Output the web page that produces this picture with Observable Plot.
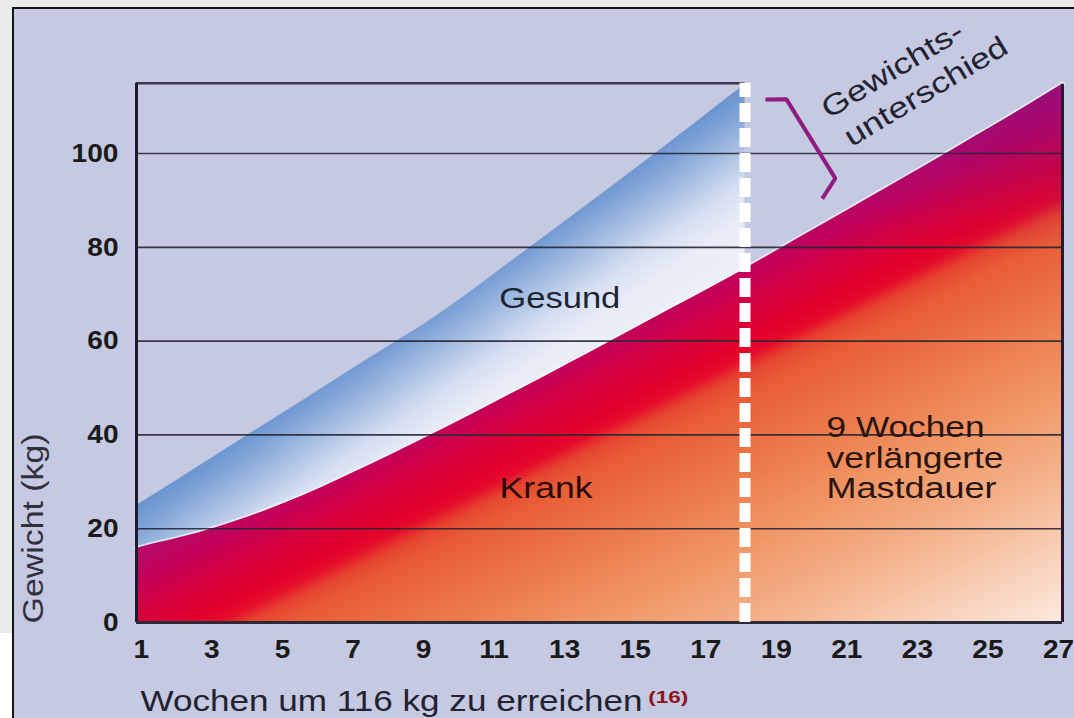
<!DOCTYPE html>
<html>
<head>
<meta charset="utf-8">
<script src="https://cdn.jsdelivr.net/npm/d3@7"></script>
<script src="https://cdn.jsdelivr.net/npm/@observablehq/plot@0.6"></script>
<style>
  html, body { margin: 0; padding: 0; width: 1074px; height: 718px; overflow: hidden; background: #e9ebea; }
  #frame { position: absolute; left: 12px; top: 7px; width: 1120px; height: 760px; border: 2px solid #151515; box-sizing: border-box; background: #c5c9e1; }
  #white { position: absolute; left: 0; top: 633px; width: 12px; height: 85px; background: #ffffff; }
  #chart { position: absolute; left: 0; top: 0; }
  g[aria-label^="y-axis"] text {
    font-family: "Liberation Sans", Arial, Helvetica, sans-serif;
    font-size: 26px; font-weight: bold; fill: #1a1a1a;
  }
</style>
</head>
<body>
<div id="frame"></div>
<div id="white"></div>
<div id="chart"></div>
<script>
// ---- data ----
const weeksKrank = [0.75, 1, 2, 3, 4, 5, 6, 7, 8, 9, 10, 11, 12, 13, 14, 15, 16, 17, 18, 19, 20, 21, 22, 23, 24, 25, 26, 27];
const krankKg    = [15.8, 16.3, 18.1, 20.2, 22.7, 25.6, 28.8, 32.3, 35.9, 39.6, 43.4, 47.3, 51.2, 55.2, 59.2, 63.2, 67.3, 71.3, 75.4, 79.7, 84.0, 88.3, 92.6, 96.9, 101.3, 105.7, 110.2, 114.8];
const weeksGesund = [0.75, 1, 2, 3, 4, 5, 6, 7, 8, 9, 10, 11, 12, 13, 14, 15, 16, 17, 18];
const gesundKg    = [24.9, 26.1, 30.8, 35.6, 40.4, 45.1, 49.9, 54.7, 59.4, 64.1, 69.3, 74.9, 80.5, 86.1, 91.7, 97.4, 103.1, 108.9, 114.7];
const xTicks = [1, 3, 5, 7, 9, 11, 13, 15, 17, 19, 21, 23, 25, 27];
const yTicks = [0, 20, 40, 60, 80, 100];
const xDomain = [0.75, 27];
const yDomain = [0, 115];
const markWeek = 18;           // end of healthy fattening
const xTitle = "Wochen um 116 kg zu erreichen";
const xFootnote = "(16)";
const yTitle = "Gewicht (kg)";
const labelGesund = "Gesund";
const labelKrank = "Krank";
const labelExtra = "9 Wochen\nverlängerte\nMastdauer";
const labelDiff1 = "Gewichts-";
const labelDiff2 = "unterschied";

const krank = weeksKrank.map((w, i) => ({week: w, kg: krankKg[i]}));
const gesund = weeksGesund.map((w, i) => ({week: w, kg: gesundKg[i]}));
const font = "'Liberation Sans', Arial, Helvetica, sans-serif";
const curve = "monotone-x";

const chart = Plot.plot({
  width: 1074,
  height: 718,
  marginLeft: 136,
  marginRight: 12,
  marginTop: 82.7,
  marginBottom: 96,
  style: {background: "transparent", overflow: "visible"},
  x: {domain: xDomain, axis: null},
  y: {domain: yDomain, ticks: yTicks, tickFormat: d => String(d), tickSize: 0, tickPadding: 18, label: null},
  marks: [
    // healthy band
    Plot.areaY(gesund, {x: "week", y: "kg", curve, fill: "url(#gBlue)"}),
    // light rim above the sick curve
    Plot.line(krank, {x: "week", y: "kg", curve, stroke: "#ffffff", strokeOpacity: 0.6, strokeWidth: 5}),
    // sick area
    Plot.areaY(krank, {x: "week", y: "kg", curve, fill: "url(#gSick)"}),
    Plot.areaY(krank, {x: "week", y: "kg", curve, fill: "url(#gPurple)"}),
    // grid
    Plot.ruleY(yTicks.filter(d => d > 0), {x1: xDomain[0], x2: xDomain[1], stroke: "#262636", strokeOpacity: 0.9, strokeWidth: 1.6}),
    Plot.ruleY([yDomain[1]], {x1: xDomain[0], x2: markWeek, stroke: "#3a3a4a", strokeWidth: 2.6}),
    Plot.ruleX([xDomain[1]], {y1: 0, y2: krankKg[krankKg.length - 1], stroke: "#2b1830", strokeWidth: 3}),
    Plot.ruleX([xDomain[0]], {y1: 0, y2: yDomain[1], stroke: "#1c1c2a", strokeWidth: 3}),
    Plot.ruleY([0], {x1: xDomain[0], x2: xDomain[1], stroke: "#2a2a38", strokeWidth: 3}),
    // dashed separator
    Plot.ruleX([markWeek], {y1: 0, y2: yDomain[1], stroke: "#ffffff", strokeWidth: 11, strokeDasharray: "19,6"}),
    // bracket
    Plot.line([[18.58, 111.5], [19.17, 111.6], [20.56, 94.7], [20.19, 90.4]], {stroke: "#8f1d80", strokeWidth: 4, strokeLinejoin: "miter", strokeLinecap: "butt"}),
    // x tick labels (through the x scale)
    Plot.text(xTicks, {x: d => d, y: 0, dy: 27, dx: -4, text: d => String(d), fontFamily: font, fontSize: 26, fontWeight: "bold", fill: "#1a1a1a", textAnchor: "middle"}),
    // annotations
    Plot.text([labelGesund], {x: 12.75, y: 69.0, text: d => d, fontFamily: font, fontSize: 29, fill: "#1d2535", textAnchor: "middle"}),
    Plot.text([labelKrank], {x: 12.36, y: 28.5, text: d => d, fontFamily: font, fontSize: 29, fill: "#2a0808", textAnchor: "middle"}),
    Plot.text([labelExtra], {x: 20.31, y: 35.05, text: d => d, fontFamily: font, fontSize: 29, fill: "#2a1410", textAnchor: "start", lineHeight: 1.05}),
    Plot.text([labelDiff1], {x: 22.18, y: 117.8, text: d => d, fontFamily: font, fontSize: 29, fill: "#222230", textAnchor: "middle", rotate: -31}),
    Plot.text([labelDiff2], {x: 23.13, y: 113.2, text: d => d, fontFamily: font, fontSize: 29, fill: "#222230", textAnchor: "middle", rotate: -31}),
    // axis titles
    Plot.text([yTitle], {x: -2.15, y: 20.06, text: d => d, fontFamily: font, fontSize: 29, fill: "#30303e", textAnchor: "middle", rotate: -90}),
    Plot.text([xTitle], {x: 0.863, y: -16.8, text: d => d, fontFamily: font, fontSize: 29, fill: "#222230", textAnchor: "start"}),
    Plot.text([xFootnote], {x: 15.26, y: -16.1, text: d => d, fontFamily: font, fontSize: 16, fontWeight: "bold", fill: "#8a1420", textAnchor: "start"})
  ]
});

// ---- gradients (geometry derived from the scales and the data) ----
const xs = chart.scale("x"), ys = chart.scale("y");
const X = xs.apply ? (v => xs.apply(v)) : d3.scaleLinear(xs.domain, xs.range);
const Y = ys.apply ? (v => ys.apply(v)) : d3.scaleLinear(ys.domain, ys.range);
const NS = "http://www.w3.org/2000/svg";
const defs = document.createElementNS(NS, "defs");

function addGradient(id, attrs, stops) {
  const g = document.createElementNS(NS, "linearGradient");
  g.setAttribute("id", id);
  for (const [k, v] of Object.entries(attrs)) g.setAttribute(k, v);
  for (const [off, col, op] of stops) {
    const s = document.createElementNS(NS, "stop");
    s.setAttribute("offset", off);
    s.setAttribute("stop-color", col);
    if (op !== undefined) s.setAttribute("stop-opacity", op);
    g.appendChild(s);
  }
  defs.appendChild(g);
}
function chordGradient(id, a, b, L, stops) {
  const dx = b[0] - a[0], dy = b[1] - a[1], len = Math.hypot(dx, dy);
  const nx = -dy / len, ny = dx / len;
  addGradient(id, {gradientUnits: "userSpaceOnUse", x1: a[0], y1: a[1], x2: a[0] + nx * L, y2: a[1] + ny * L}, stops);
}

// sick band: isolines parallel to the chord of the sick curve
const kA = [X(weeksKrank[1]), Y(krankKg[1])];
const kB = [X(weeksKrank[weeksKrank.length - 1]), Y(krankKg[krankKg.length - 1])];
{
  const dx = kB[0] - kA[0], dy = kB[1] - kA[1], len = Math.hypot(dx, dy);
  const nx = -dy / len, ny = dx / len;
  const far = [X(xDomain[1]), Y(0)];
  const L = (far[0] - kA[0]) * nx + (far[1] - kA[1]) * ny;
  chordGradient("gSick", kA, kB, L, [
    [0.00, "#b50a6a"], [0.06, "#c4005a"], [0.12, "#d5003e"], [0.18, "#e2002c"],
    [0.21, "#e50a2a"], [0.24, "#e64430"], [0.28, "#e85c36"], [0.42, "#ec7a4a"],
    [0.58, "#f19a6a"], [0.72, "#f4b28c"], [0.86, "#f8cfb6"], [1.00, "#fde9de"]
  ]);
}
addGradient("gPurple", {x1: 0, y1: 0, x2: 0, y2: 1}, [
  [0.00, "#860f82", 0.6], [0.12, "#860f82", 0.35], [0.25, "#860f82", 0.08], [0.32, "#860f82", 0]
]);
// healthy band: isolines parallel to the chord of the healthy curve
const gA = [X(weeksGesund[1]), Y(gesundKg[1])];
const gB = [X(weeksGesund[weeksGesund.length - 1]), Y(gesundKg[gesundKg.length - 1])];
chordGradient("gBlue", gA, gB, 160, [
  [0.00, "#6993d0"], [0.094, "#789ed5"], [0.19, "#8dadda"], [0.31, "#a9c0e3"],
  [0.50, "#d5def1"], [0.69, "#e9edf7"], [1.00, "#eef0f8"]
]);
chart.insertBefore(defs, chart.firstChild);

document.getElementById("chart").appendChild(chart);

// ---- the reference's lettering is slightly wide: fit each text to its width ----
const widths = new Map([
  [labelGesund, 121], [labelKrank, 93], ["9 Wochen", 158], ["verlängerte", 177], ["Mastdauer", 170],
  [labelDiff1, 160], [labelDiff2, 185], [yTitle, 190], [xTitle, 502], [xFootnote, 40]
]);
const tickSet = new Set([...xTicks, ...yTicks].map(String));
for (const t of chart.querySelectorAll("text")) {
  const spans = t.querySelectorAll("tspan");
  const items = spans.length ? [...spans] : [t];
  for (const el of items) {
    const s = el.textContent;
    if (widths.has(s)) {
      el.setAttribute("textLength", widths.get(s));
      el.setAttribute("lengthAdjust", "spacingAndGlyphs");
    } else if (tickSet.has(s)) {
      const w = el.getComputedTextLength();
      el.setAttribute("textLength", (w * 1.08).toFixed(1));
      el.setAttribute("lengthAdjust", "spacingAndGlyphs");
    }
  }
}
</script>
</body>
</html>
